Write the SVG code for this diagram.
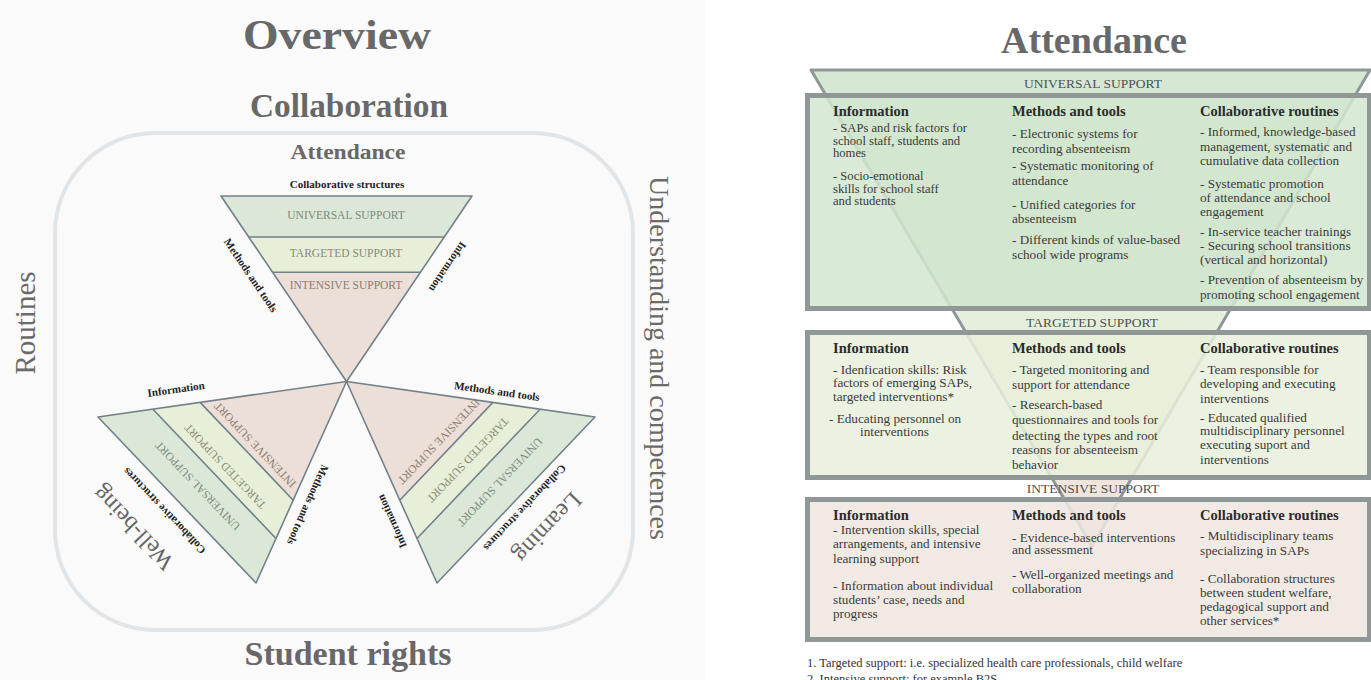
<svg xmlns="http://www.w3.org/2000/svg" width="1371" height="680" viewBox="0 0 1371 680">
  <style>
    .title { font-family: "Liberation Serif", serif; font-weight: bold; fill: #686868; text-anchor: middle; }
    .axis { font-family: "Liberation Serif", serif; fill: #6a6a6a; text-anchor: middle; }
    .band { font-family: "Liberation Serif", serif; font-size: 11.5px; text-anchor: middle; }
    .side { font-family: "Liberation Serif", serif; font-weight: bold; font-size: 11px; fill: #222; text-anchor: middle; }
    .area { font-family: "Liberation Serif", serif; font-size: 24px; fill: #666; text-anchor: middle; }
    .tri { stroke: #72808a; stroke-width: 1.6; stroke-linejoin: round; }
    .u { fill: #dbe8d8; }
    .t { fill: #e8efd9; }
    .i { fill: #ecdfd7; }
    .uTxt { fill: #7b8a7c; }
    .tTxt { fill: #878a76; }
    .iTxt { fill: #8c7b72; }
    .hd { font-family: "Liberation Serif", serif; font-weight: bold; font-size: 14.5px; fill: #2b2b2b; }
    .bd { font-family: "Liberation Serif", serif; font-size: 13.2px; fill: #3a3a3a; }
    .bd.tight { font-size: 12.6px; }
    .strip { font-family: "Liberation Serif", serif; font-size: 13.5px; fill: #505050; text-anchor: middle; }
    .fn { font-family: "Liberation Serif", serif; font-size: 12.5px; fill: #333; }
    .box { stroke: #8f9797; stroke-width: 5; fill-opacity: 0.85; }
  </style>

  <!-- backgrounds -->
  <rect x="0" y="0" width="1371" height="680" fill="#ffffff"/>
  <rect x="0" y="0" width="705" height="680" fill="#fafafa"/>

  <!-- ===== Overview panel ===== -->
  <g id="overview-titles">
    <text class="title" x="337" y="49" font-size="42" textLength="188" lengthAdjust="spacingAndGlyphs">Overview</text>
    <text class="title" x="349" y="117" font-size="33" textLength="198" lengthAdjust="spacingAndGlyphs">Collaboration</text>
    <text class="title" x="348" y="665" font-size="34" textLength="207" lengthAdjust="spacingAndGlyphs">Student rights</text>
    <text class="axis" transform="translate(35,323) rotate(-90)" font-size="29">Routines</text>
    <text class="axis" transform="translate(650,358) rotate(90)" font-size="28">Understanding and competences</text>
  </g>

  <rect id="frame" x="55" y="133" width="578" height="497" rx="100" ry="100" fill="none" stroke="#e2e5e8" stroke-width="4"/>

  <!-- Attendance (top triangle) -->
  <g id="tri-attendance">
    <text class="title" x="348" y="159" font-size="22" textLength="115" lengthAdjust="spacingAndGlyphs">Attendance</text>
    <text class="side" x="347" y="188">Collaborative structures</text>
    <polygon class="u" points="221,196 472,196 444.3,237 248.7,237"/>
    <polygon class="t" points="248.7,237 444.3,237 420.4,272.2 272.6,272.2"/>
    <polygon class="i" points="272.6,272.2 420.4,272.2 346.5,381.5"/>
    <polyline class="tri" fill="none" points="248.7,237 444.3,237"/>
    <polyline class="tri" fill="none" points="272.6,272.2 420.4,272.2"/>
    <polygon class="tri" fill="none" points="221,196 472,196 346.5,381.5"/>
    <text class="band uTxt" x="346" y="219">UNIVERSAL SUPPORT</text>
    <text class="band tTxt" x="346" y="257">TARGETED SUPPORT</text>
    <text class="band iTxt" x="346" y="289">INTENSIVE SUPPORT</text>
    <text class="side" transform="translate(251,275) rotate(55.9)" y="4">Methods and tools</text>
    <text class="side" transform="translate(448,267) rotate(124.1)" y="4">Information</text>
  </g>

  <!-- Well-being (lower left triangle) -->
  <g id="tri-wellbeing">
    <polygon class="u" points="98,417 152.9,409.2 276,538.5 256,583"/>
    <polygon class="t" points="152.9,409.2 200.1,402.4 293.2,500.2 276,538.5"/>
    <polygon class="i" points="200.1,402.4 346.5,381.5 293.2,500.2"/>
    <polyline class="tri" fill="none" points="152.9,409.2 276,538.5"/>
    <polyline class="tri" fill="none" points="200.1,402.4 293.2,500.2"/>
    <polygon class="tri" fill="none" points="346.5,381.5 98,417 256,583"/>
    <text class="band uTxt" transform="translate(197.5,486) rotate(-133.6)" y="4">UNIVERSAL SUPPORT</text>
    <text class="band tTxt" transform="translate(225,466.5) rotate(-133.6)" y="4">TARGETED SUPPORT</text>
    <text class="band iTxt" transform="translate(255,445) rotate(-133.6)" y="4">INTENSIVE SUPPORT</text>
    <text class="side" transform="translate(176,389) rotate(-8)" y="4">Information</text>
    <text class="side" transform="translate(308,505) rotate(114.2)" y="4">Methods and tools</text>
    <text class="side" transform="translate(164,511) rotate(-133.6)" y="4">Collaborative structures</text>
    <text class="area" transform="translate(133,528) rotate(-133.6)" y="8">Well-being</text>
  </g>

  <!-- Learning (lower right triangle) -->
  <g id="tri-learning">
    <polygon class="u" points="595,417 540.1,409.2 417,538.5 437,583"/>
    <polygon class="t" points="540.1,409.2 492.9,402.4 399.8,500.2 417,538.5"/>
    <polygon class="i" points="492.9,402.4 346.5,381.5 399.8,500.2"/>
    <polyline class="tri" fill="none" points="540.1,409.2 417,538.5"/>
    <polyline class="tri" fill="none" points="492.9,402.4 399.8,500.2"/>
    <polygon class="tri" fill="none" points="346.5,381.5 595,417 437,583"/>
    <text class="band uTxt" transform="translate(500,482) rotate(133.6)" y="4">UNIVERSAL SUPPORT</text>
    <text class="band tTxt" transform="translate(468,460) rotate(133.6)" y="4">TARGETED SUPPORT</text>
    <text class="band iTxt" transform="translate(439,441.5) rotate(133.6)" y="4">INTENSIVE SUPPORT</text>
    <text class="side" transform="translate(497,391) rotate(8)" y="4">Methods and tools</text>
    <text class="side" transform="translate(391.5,521.5) rotate(-114.2)" y="4">Information</text>
    <text class="side" transform="translate(525,508) rotate(133.6)" y="4">Collaborative structures</text>
    <text class="area" transform="translate(548,527.5) rotate(133.6)" y="8">Learning</text>
  </g>

  <!-- ===== Attendance detail panel ===== -->
  <text id="attendance-title" class="title" x="1094" y="53" font-size="38">Attendance</text>

  <!-- support levels funnel behind the boxes -->
  <g id="funnel">
    <polygon fill="#d6e8d3" points="811,70 1370,70 1229.3,311 953.3,311"/>
    <polygon fill="#e6efdb" points="953.3,311 1229.3,311 1130.6,480 1053,480"/>
    <polygon fill="#efe5dd" points="1053,480 1130.6,480 1092,546"/>
    <polygon fill="none" stroke="#8f9797" stroke-width="3" stroke-linejoin="round" points="811,70 1370,70 1092,546"/>
  </g>

  <g id="box-universal">
    <rect class="box" x="807.5" y="95.5" width="562" height="213" fill="#d2e6cf"/>
    <text class="hd" x="833" y="116">Information</text>
    <text class="bd tight" x="833" y="132">- SAPs and risk factors for</text>
    <text class="bd tight" x="833" y="144.5">school staff, students and</text>
    <text class="bd tight" x="833" y="157">homes</text>
    <text class="bd tight" x="833" y="180">- Socio-emotional</text>
    <text class="bd tight" x="833" y="192.5">skills for school staff</text>
    <text class="bd tight" x="833" y="205">and students</text>

    <text class="hd" x="1012" y="116">Methods and tools</text>
    <text class="bd" x="1012" y="137.5">- Electronic systems for</text>
    <text class="bd" x="1012" y="152.5">recording absenteeism</text>
    <text class="bd" x="1012" y="170">- Systematic monitoring of</text>
    <text class="bd" x="1012" y="185">attendance</text>
    <text class="bd" x="1012" y="209">- Unified categories for</text>
    <text class="bd" x="1012" y="223">absenteeism</text>
    <text class="bd" x="1012" y="244">- Different kinds of value-based</text>
    <text class="bd" x="1012" y="259">school wide programs</text>

    <text class="hd" x="1200" y="116">Collaborative routines</text>
    <text class="bd" x="1200" y="136">- Informed, knowledge-based</text>
    <text class="bd" x="1200" y="151">management, systematic and</text>
    <text class="bd" x="1200" y="165">cumulative data collection</text>
    <text class="bd" x="1200" y="188">- Systematic promotion</text>
    <text class="bd" x="1200" y="201.5">of attendance and school</text>
    <text class="bd" x="1200" y="216">engagement</text>
    <text class="bd" x="1200" y="236">- In-service teacher trainings</text>
    <text class="bd" x="1200" y="249.5">- Securing school transitions</text>
    <text class="bd" x="1200" y="264">(vertical and horizontal)</text>
    <text class="bd" x="1200" y="284">- Prevention of absenteeism by</text>
    <text class="bd" x="1200" y="299">promoting school engagement</text>
  </g>

  <g id="box-targeted">
    <rect class="box" x="807.5" y="332.5" width="562" height="145" fill="#e8f0dc"/>
    <text class="hd" x="833" y="353">Information</text>
    <text class="bd" x="833" y="373.5">- Idenfication skills: Risk</text>
    <text class="bd" x="833" y="387">factors of emerging SAPs,</text>
    <text class="bd" x="833" y="401">targeted interventions*</text>
    <text class="bd" x="829" y="422.5">- Educating personnel on</text>
    <text class="bd" x="860" y="436">interventions</text>

    <text class="hd" x="1012" y="353">Methods and tools</text>
    <text class="bd" x="1012" y="374">- Targeted monitoring and</text>
    <text class="bd" x="1012" y="389">support for attendance</text>
    <text class="bd" x="1012" y="409">- Research-based</text>
    <text class="bd" x="1012" y="424">questionnaires and tools for</text>
    <text class="bd" x="1012" y="440">detecting the types and root</text>
    <text class="bd" x="1012" y="454">reasons for absenteeism</text>
    <text class="bd" x="1012" y="469">behavior</text>

    <text class="hd" x="1200" y="353">Collaborative routines</text>
    <text class="bd" x="1200" y="374">- Team responsible for</text>
    <text class="bd" x="1200" y="388">developing and executing</text>
    <text class="bd" x="1200" y="402.5">interventions</text>
    <text class="bd" x="1200" y="421.5">- Educated qualified</text>
    <text class="bd" x="1200" y="435">multidisciplinary personnel</text>
    <text class="bd" x="1200" y="449">executing suport and</text>
    <text class="bd" x="1200" y="464">interventions</text>
  </g>

  <g id="box-intensive">
    <rect class="box" x="807.5" y="499.5" width="562" height="140" fill="#efe6df"/>
    <text class="hd" x="833" y="520">Information</text>
    <text class="bd" x="833" y="533.5">- Intervention skills, special</text>
    <text class="bd" x="833" y="548">arrangements, and intensive</text>
    <text class="bd" x="833" y="562.5">learning support</text>
    <text class="bd" x="833" y="590">- Information about individual</text>
    <text class="bd" x="833" y="603.5">students’ case, needs and</text>
    <text class="bd" x="833" y="617.5">progress</text>

    <text class="hd" x="1012" y="520">Methods and tools</text>
    <text class="bd" x="1012" y="541.5">- Evidence-based interventions</text>
    <text class="bd" x="1012" y="554">and assessment</text>
    <text class="bd" x="1012" y="578.5">- Well-organized meetings and</text>
    <text class="bd" x="1012" y="592.5">collaboration</text>

    <text class="hd" x="1200" y="520">Collaborative routines</text>
    <text class="bd" x="1200" y="540">- Multidisciplinary teams</text>
    <text class="bd" x="1200" y="555">specializing in SAPs</text>
    <text class="bd" x="1200" y="582.5">- Collaboration structures</text>
    <text class="bd" x="1200" y="597">between student welfare,</text>
    <text class="bd" x="1200" y="611">pedagogical support and</text>
    <text class="bd" x="1200" y="625">other services*</text>
  </g>

  <g id="level-strips">
    <text class="strip" x="1093" y="87.5">UNIVERSAL SUPPORT</text>
    <text class="strip" x="1092" y="326.5">TARGETED SUPPORT</text>
    <text class="strip" x="1093" y="493">INTENSIVE SUPPORT</text>
  </g>

  <g id="footnotes">
    <text class="fn" x="807" y="667">1. Targeted support: i.e. specialized health care professionals, child welfare</text>
    <text class="fn" x="807" y="683">2. Intensive support: for example B2S</text>
  </g>
</svg>
